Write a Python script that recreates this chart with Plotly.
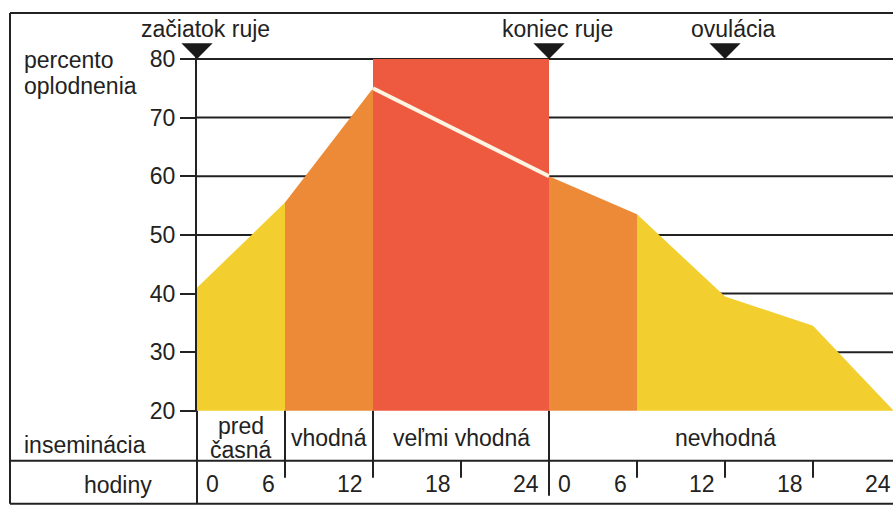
import plotly.graph_objects as go

# ---------------- data ----------------
hours = [0, 6, 12, 24, 30, 36, 42, 47.5]
fertility = [41, 55.5, 75, 60, 53.5, 39.5, 34.5, 20]

zone_bounds = [0, 6, 12, 24, 30, 47.5]
zone_colors = ["#F2CE2E", "#EC8A38", "#EE5A3F", "#EC8A38", "#F2CE2E"]
full_zone = (12, 24)          # "veľmi vhodná" band filled to the top
FULL_TOP = 80

insem_bounds = [0, 6, 12, 24, 48]
insem_labels = ["pred<br>časná", "vhodná", "veľmi vhodná", "nevhodná"]

hour_tick_pos = [0, 6, 12, 18, 24, 24, 30, 36, 42, 48]
hour_tick_text = ["0", "6", "12", "18", "24", "0", "6", "12", "18", "24"]
day_change = 24

events = ["začiatok ruje", "koniec ruje", "ovulácia"]
event_hours = [0, 24, 36]

y_ticks = [20, 30, 40, 50, 60, 70, 80]

# ---------------- layout geometry (pixels) ----------------
W, H = 893, 508
L, R = 197, 893
Y80, Y20 = 59, 411
k = (Y20 - Y80) / 60.0
Y_RANGE = [19.8, 80.5]
T = Y80 - (Y_RANGE[1] - 80) * k
B = Y20 + (20 - Y_RANGE[0]) * k
X_MAX = (R - L) / (549 - L) * 24

INK = "#222222"
FONT = "Liberation Sans, Arial, sans-serif"
FS = 23


def px(x):
    return (x - L) / (R - L)


def py(y):
    return (B - y) / (B - T)


def hx(h):
    return h / X_MAX


fig = go.Figure()

# coloured zones under the curve
for i, color in enumerate(zone_colors):
    a, b = zone_bounds[i], zone_bounds[i + 1]
    seg = [(h, f) for h, f in zip(hours, fertility) if a <= h <= b]
    if (a, b) == full_zone:
        xs = [a, a, b, b]
        ys = [20, FULL_TOP, FULL_TOP, 20]
    else:
        xs = [a] + [s[0] for s in seg] + [b]
        ys = [20] + [s[1] for s in seg] + [20]
    fig.add_trace(go.Scatter(x=xs, y=ys, fill="toself", fillcolor=color,
                             mode="lines", line=dict(width=0, color=color),
                             hoverinfo="skip", showlegend=False))

# the curve inside the red band (white line)
seg = [(h, f) for h, f in zip(hours, fertility) if full_zone[0] <= h <= full_zone[1]]
fig.add_trace(go.Scatter(x=[s[0] for s in seg], y=[s[1] for s in seg],
                         mode="lines", line=dict(color="#FFF4E2", width=4),
                         hoverinfo="skip", showlegend=False))

shapes = []
# horizontal grid lines
for yv in y_ticks[1:]:
    shapes.append(dict(type="line", xref="x", yref="y", x0=0, x1=X_MAX,
                       y0=yv, y1=yv, layer="below",
                       line=dict(color=INK, width=2)))

def pline(x0, y0, x1, y1):
    shapes.append(dict(type="line", xref="paper", yref="paper",
                       x0=x0, y0=y0, x1=x1, y1=y1,
                       line=dict(color=INK, width=2)))

# frame and table rows
pline(px(10), py(13), px(10), py(504))
pline(px(10), py(13), px(893), py(13))
pline(px(10), py(461), px(893), py(461))
pline(px(10), py(504), px(893), py(504))
# axis continuation through the table
pline(px(L), py(Y20), px(L), py(504))
# category separators
for h in insem_bounds[1:-1]:
    bottom = 496 if h == day_change else 478
    pline(hx(h), py(Y20), hx(h), py(bottom))
# hour tick marks
for h in sorted(set(hour_tick_pos)):
    if h in insem_bounds or h >= 48:
        continue
    pline(hx(h), py(461), hx(h), py(478))

annotations = []

def text(x, y, s, xanchor="center", xref="paper", xshift=0):
    annotations.append(dict(x=x, y=y, xref=xref, yref="paper", text=s,
                            showarrow=False, xanchor=xanchor, yanchor="middle",
                            xshift=xshift,
                            font=dict(family=FONT, size=FS, color=INK)))

# event markers and labels
for name, h in zip(events, event_hours):
    annotations.append(dict(x=h, y=80, xref="x", yref="y", text="",
                            showarrow=True, arrowhead=1, arrowsize=2.6,
                            arrowwidth=2, arrowcolor="#1a1a1a",
                            ax=0, ay=-14))
    text(h, py(29), name, xref="x", xshift=8)

text(px(22), py(60), "percento", xanchor="left")
text(px(22), py(86), "oplodnenia", xanchor="left")
text(px(22), py(445), "inseminácia", xanchor="left")
text(px(118), py(485), "hodiny")

# insemination categories
for i, lab in enumerate(insem_labels):
    mid = (insem_bounds[i] + insem_bounds[i + 1]) / 2
    lines = lab.split("<br>")
    if len(lines) == 1:
        text(hx(mid), py(438), lines[0])
    else:
        text(hx(mid), py(426), lines[0])
        text(hx(mid), py(450), lines[1])

# hour labels
for h, lab in zip(hour_tick_pos, hour_tick_text):
    if lab == "0":
        text(hx(h), py(484), lab, xanchor="left", xshift=7)
    else:
        text(hx(h), py(484), lab, xanchor="right", xshift=-8)

fig.update_layout(
    width=W, height=H,
    margin=dict(l=L, r=W - R, t=T, b=H - B, pad=0),
    paper_bgcolor="white", plot_bgcolor="white",
    showlegend=False,
    xaxis=dict(range=[0, X_MAX], showgrid=False, zeroline=False,
               showline=False, showticklabels=False, ticks="", fixedrange=True),
    yaxis=dict(range=Y_RANGE, tickvals=y_ticks, ticks="outside", ticklen=15,
               tickwidth=2, tickcolor=INK, showline=True, linewidth=2,
               linecolor=INK, showgrid=False, zeroline=False,
               layer="below traces", fixedrange=True,
               tickfont=dict(family=FONT, size=FS, color=INK)),
    shapes=shapes,
    annotations=annotations,
)

fig.write_html(
    "out.html",
    config={"displayModeBar": False},
    post_script="document.body.style.margin='0';document.body.style.overflow='hidden';",
)
